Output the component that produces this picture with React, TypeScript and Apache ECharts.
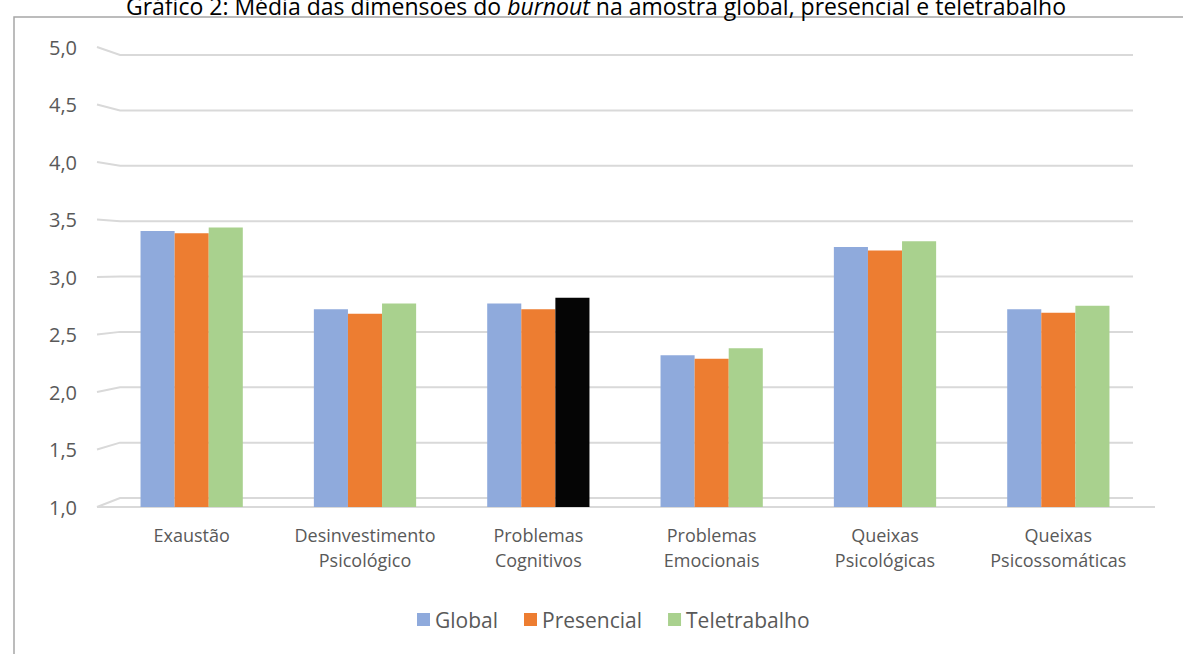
import React, { useEffect, useRef } from 'react';
import * as echarts from 'echarts';

const categories = [
  'Exaustão',
  'Desinvestimento\nPsicológico',
  'Problemas\nCognitivos',
  'Problemas\nEmocionais',
  'Queixas\nPsicológicas',
  'Queixas\nPsicossomáticas',
];
const seriesNames = ['Global', 'Presencial', 'Teletrabalho'];
const globalValues = [3.40, 2.72, 2.77, 2.32, 3.26, 2.72];
const presencialValues = [3.38, 2.68, 2.72, 2.29, 3.23, 2.69];
const teletrabalhoValues = [3.43, 2.77, 2.82, 2.38, 3.31, 2.75];
const yTicks = [1.0, 1.5, 2.0, 2.5, 3.0, 3.5, 4.0, 4.5, 5.0];
const blackBarIndex = 2; // Teletrabalho bar rendered black in the source

const FONT = '"Open Sans", "Noto Sans", sans-serif';
const TEXT = '#595959';

export default function App() {
  const ref = useRef<HTMLDivElement>(null);

  useEffect(() => {
    if (!ref.current) return;
    const chart = echarts.init(ref.current, null, { renderer: 'svg' });

    const gridLeft = 105;
    const gridRight = 38;
    const gridTop = 47;
    const gridBottom = 147;

    chart.setOption({
      animation: false,
      backgroundColor: '#ffffff',
      textStyle: { fontFamily: FONT },
      grid: { left: gridLeft, right: gridRight, top: gridTop, bottom: gridBottom },
      legend: {
        data: seriesNames,
        left: 412,
        top: 604,
        itemWidth: 13,
        itemHeight: 13,
        itemGap: 26,
        icon: 'rect',
        textStyle: { fontSize: 21, color: TEXT, fontFamily: FONT },
      },
      xAxis: {
        type: 'category',
        data: categories,
        axisLine: { show: false },
        axisTick: { show: false },
        axisLabel: {
          interval: 0,
          hideOverlap: false,
          fontSize: 18,
          color: TEXT,
          lineHeight: 25,
          margin: 15,
          fontFamily: FONT,
        },
      },
      yAxis: {
        type: 'value',
        min: 1,
        max: 5,
        interval: 0.5,
        splitLine: { show: false },
        axisLine: { show: false },
        axisTick: { show: false },
        axisLabel: {
          fontSize: 20,
          color: TEXT,
          margin: 28,
          fontFamily: FONT,
          formatter: (v: number) => v.toFixed(1).replace('.', ','),
        },
      },
      series: [
        {
          name: 'Global',
          type: 'bar',
          data: globalValues,
          barGap: '0%',
          barCategoryGap: '41%',
          itemStyle: { color: '#8faadc' },
        },
        {
          name: 'Presencial',
          type: 'bar',
          data: presencialValues,
          barGap: '0%',
          barCategoryGap: '41%',
          itemStyle: { color: '#ed7d31' },
        },
        {
          name: 'Teletrabalho',
          type: 'bar',
          data: teletrabalhoValues.map((v, i) =>
            i === blackBarIndex ? { value: v, itemStyle: { color: '#050505' } } : v
          ),
          barGap: '0%',
          barCategoryGap: '41%',
          itemStyle: { color: '#a9d18e' },
        },
      ],
    });

    // Perspective back-wall gridlines derived from the axis scale
    const yFront = (v: number) => chart.convertToPixel({ yAxisIndex: 0 }, v) as number;
    const f5 = yFront(5);
    const f1 = yFront(1);
    const backTop = f5 + 8;
    const backBottom = f1 - 9;
    const toBack = (yf: number) => backTop + ((yf - f5) * (backBottom - backTop)) / (f1 - f5);
    const xFrontLeft = 97;
    const xBackLeft = 120;
    const xBackRight = 1133;
    const xFrontRight = 1155;

    const gridGraphics: any[] = yTicks.map((v) => {
      const yf = yFront(v);
      const yb = toBack(yf);
      return {
        type: 'polyline',
        z: 0,
        silent: true,
        shape: { points: [[xFrontLeft, yf], [xBackLeft, yb], [xBackRight, yb]] },
        style: { stroke: '#d9d9d9', lineWidth: 2, fill: 'none' },
      };
    });
    gridGraphics.push({
      type: 'line',
      z: 0,
      silent: true,
      shape: { x1: xFrontLeft, y1: f1, x2: xFrontRight, y2: f1 },
      style: { stroke: '#d9d9d9', lineWidth: 2 },
    });

    chart.setOption({
      graphic: [
        ...gridGraphics,
        {
          type: 'rect',
          z: 0,
          silent: true,
          shape: { x: 14, y: 17, width: 1300, height: 800 },
          style: { fill: 'none', stroke: '#a6a6a6', lineWidth: 1.5 },
        },
        {
          type: 'text',
          z: 10,
          x: 596,
          y: 6,
          style: {
            text: '{n|Gráfico 2: Média das dimensões do }{i|burnout}{n| na amostra global, presencial e teletrabalho}',
            align: 'center',
            verticalAlign: 'middle',
            rich: {
              n: { fontSize: 23, fontFamily: FONT, fill: '#000000', color: '#000000' },
              i: { fontSize: 23, fontFamily: FONT, fontStyle: 'italic', fill: '#000000', color: '#000000' },
            },
          },
        },
      ],
    });

    return () => chart.dispose();
  }, []);

  return (
    <div
      ref={ref}
      style={{ position: 'absolute', left: 0, top: 0, width: 1183, height: 654 }}
    />
  );
}
